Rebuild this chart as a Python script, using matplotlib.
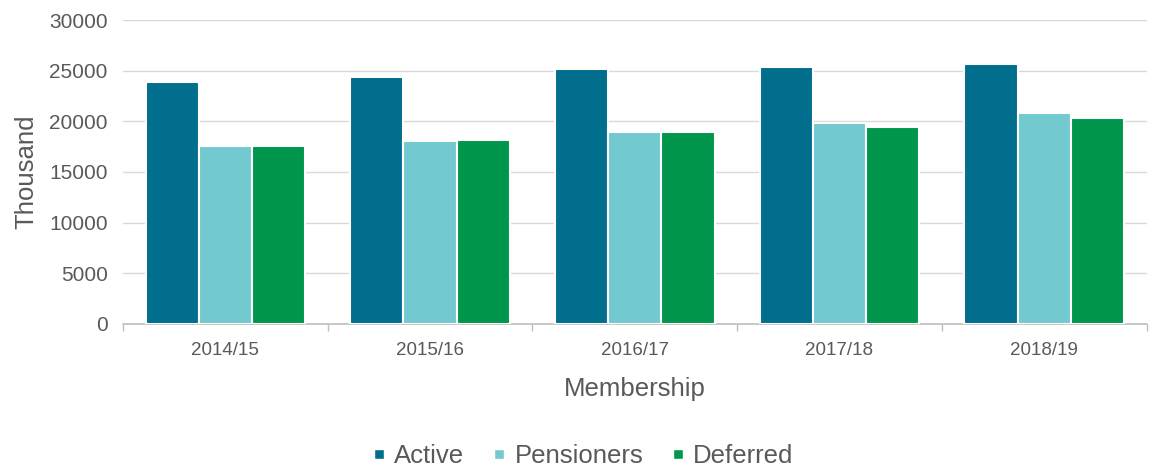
import matplotlib
matplotlib.use("Agg")
import matplotlib.pyplot as plt
import numpy as np
from matplotlib.lines import Line2D

categories = ["2014/15", "2015/16", "2016/17", "2017/18", "2018/19"]
active = [23900, 24400, 25150, 25400, 25650]
pensioners = [17550, 18050, 18950, 19800, 20850]
deferred = [17550, 18150, 18950, 19450, 20300]
series_names = ["Active", "Pensioners", "Deferred"]
colors = ["#006E8C", "#73C9D0", "#00964B"]
yticks = [0, 5000, 10000, 15000, 20000, 25000, 30000]

plt.rcParams['font.family'] = ['Liberation Sans', 'DejaVu Sans']
text_color = "#595959"

fig = plt.figure(figsize=(11.5, 4.68), dpi=100)
ax = fig.add_axes([0.107, 0.308, 0.890, 0.649])

x = np.arange(len(categories))
w = 0.26
for i, (vals, c) in enumerate(zip([active, pensioners, deferred], colors)):
    ax.bar(x + (i - 1) * w, vals, width=w, color=c, edgecolor="white", linewidth=1.5, zorder=3)

ax.set_xlim(-0.5, len(categories) - 0.5)
ax.set_ylim(0, 30000)
ax.set_yticks(yticks)
ax.set_yticklabels([str(t) for t in yticks], fontsize=15, color=text_color)
ax.yaxis.grid(True, color="#d9d9d9", linewidth=1, zorder=0)
ax.tick_params(axis='y', length=0, pad=11)

ax.set_xticks(x)
ax.set_xticklabels(categories, fontsize=13.5, color=text_color)
ax.set_xticks(np.arange(-0.5, len(categories) + 0.5, 1), minor=True)
ax.tick_params(axis='x', which='major', length=0, pad=13)
ax.tick_params(axis='x', which='minor', length=5, color="#bfbfbf", width=1)

for s in ["top", "right", "left"]:
    ax.spines[s].set_visible(False)
ax.spines["bottom"].set_color("#bfbfbf")
ax.spines["bottom"].set_linewidth(1.2)

ax.set_ylabel("Thousand", fontsize=18.5, color=text_color, labelpad=8)
ax.set_xlabel("Membership", fontsize=18.5, color=text_color, labelpad=13)

handles = [Line2D([0], [0], marker='s', color='w', markerfacecolor=c, markersize=7.5, linestyle='None') for c in colors]
fig.legend(handles, series_names, loc='center', bbox_to_anchor=(0.507, 1 - 456 / 468), ncol=3,
           frameon=False, fontsize=18.5, handlelength=0.5, handletextpad=0.35,
           columnspacing=1.1, labelcolor=text_color, borderpad=0)

fig.savefig("out.png", dpi=100)
